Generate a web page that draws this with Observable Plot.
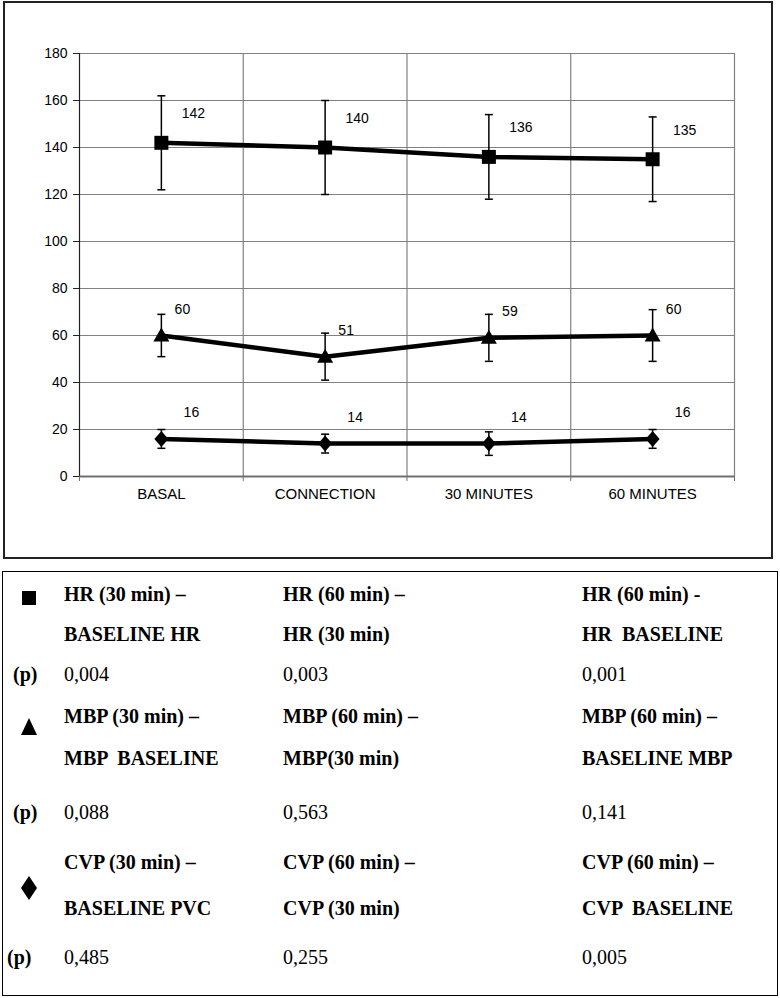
<!DOCTYPE html>
<html>
<head>
<meta charset="utf-8">
<script src="https://cdn.jsdelivr.net/npm/d3@7"></script>
<script src="https://cdn.jsdelivr.net/npm/@observablehq/plot@0.6"></script>
<style>
  html, body { margin: 0; padding: 0; background: #fff; }
  #page { position: relative; width: 780px; height: 998px; overflow: hidden; }
  #chartBox { position: absolute; left: 3px; top: 1px; width: 770px; height: 558px; box-sizing: border-box; border: 2px solid #222; }
  #plot { position: absolute; left: 0; top: 0; }
  #tableBox { position: absolute; left: 2px; top: 571px; width: 776px; height: 425px; box-sizing: border-box; border: 1.5px solid #000; }
  .t { position: absolute; font-family: "Liberation Serif", "Times New Roman", serif; font-size: 20px; line-height: 24px; color: #000; white-space: pre; }
  .b { font-weight: bold; }
  .sym { position: absolute; }
</style>
</head>
<body>
<div id="page">
  <div id="chartBox"></div>
  <div id="plot"></div>
  <div id="tableBox"></div>
</div>
<script>
// ---- chart data ----
const categories = ["BASAL", "CONNECTION", "30 MINUTES", "60 MINUTES"];
const seriesNames = ["HR", "MBP", "CVP"];
const hrMean = [142, 140, 136, 135];
const hrLow  = [122, 120, 118, 117];
const hrHigh = [162, 160, 154, 153];
const mbpMean = [60, 51, 59, 60];
const mbpLow  = [51, 41, 49, 49];
const mbpHigh = [69, 61, 69, 71];
const cvpMean = [16, 14, 14, 16];
const cvpLow  = [12, 10, 9, 12];
const cvpHigh = [20, 18, 19, 20];
const yTicks = [0, 20, 40, 60, 80, 100, 120, 140, 160, 180];

// ---- table data ----
const compHR  = [["HR (30 min) –", "BASELINE HR"], ["HR (60 min) –", "HR (30 min)"], ["HR (60 min) -", "HR  BASELINE"]];
const compMBP = [["MBP (30 min) –", "MBP  BASELINE"], ["MBP (60 min) –", "MBP(30 min)"], ["MBP (60 min) –", "BASELINE MBP"]];
const compCVP = [["CVP (30 min) –", "BASELINE PVC"], ["CVP (60 min) –", "CVP (30 min)"], ["CVP (60 min) –", "CVP  BASELINE"]];
const pHR  = ["0,004", "0,003", "0,001"];
const pMBP = ["0,088", "0,563", "0,141"];
const pCVP = ["0,485", "0,255", "0,005"];

// ---- build rows ----
const means = {HR: hrMean, MBP: mbpMean, CVP: cvpMean};
const lows = {HR: hrLow, MBP: mbpLow, CVP: cvpLow};
const highs = {HR: hrHigh, MBP: mbpHigh, CVP: cvpHigh};
const rows = seriesNames.flatMap(s => categories.map((c, i) => ({series: s, x: i, y: means[s][i], lo: lows[s][i], hi: highs[s][i]})));

// custom marker shapes (pixel sizes)
const symSquare = {draw(ctx) { ctx.moveTo(-7, -7); ctx.lineTo(7, -7); ctx.lineTo(7, 7); ctx.lineTo(-7, 7); ctx.closePath(); }};
const symTriangle = {draw(ctx) { ctx.moveTo(0, -8); ctx.lineTo(8, 6); ctx.lineTo(-8, 6); ctx.closePath(); }};
const symDiamond = {draw(ctx) { ctx.moveTo(0, -8); ctx.lineTo(7, 0); ctx.lineTo(0, 8); ctx.lineTo(-7, 0); ctx.closePath(); }};
const symCap = {draw(ctx) { ctx.moveTo(-4, 0); ctx.lineTo(4, 0); }};
const symbols = {HR: symSquare, MBP: symTriangle, CVP: symDiamond};
const labelDx = {HR: 32, MBP: 21, CVP: 30};
const labelDy = {HR: -29, MBP: -26, CVP: -26};

const boundaries = categories.map((c, i) => i + 0.5);

const marks = [
  Plot.ruleY(yTicks.filter(v => v > 0), {stroke: "#808080", strokeWidth: 1.2}),
  Plot.ruleX(boundaries, {stroke: "#808080", strokeWidth: 1.2}),
  Plot.ruleY([0], {stroke: "#707070", strokeWidth: 2}),
  Plot.ruleX([-0.5], {stroke: "#222", strokeWidth: 1.2}),
  Plot.axisY({ticks: yTicks, tickSize: 6, tickPadding: 6, fontSize: 14, label: null, stroke: "#222"}),
  Plot.axisX({ticks: [-0.5, ...boundaries], tickSize: 5, tickFormat: () => "", label: null, stroke: "#707070"}),
  Plot.axisX({ticks: categories.map((c, i) => i), tickSize: 0, tickPadding: 12, tickFormat: i => categories[i], fontSize: 15, label: null}),
  Plot.ruleX(rows, {x: "x", y1: "lo", y2: "hi", stroke: "#000", strokeWidth: 1.5}),
  Plot.dot(rows, {x: "x", y: "lo", symbol: symCap, r: 4, stroke: "#000", strokeWidth: 1.5, fill: "none"}),
  Plot.dot(rows, {x: "x", y: "hi", symbol: symCap, r: 4, stroke: "#000", strokeWidth: 1.5, fill: "none"}),
  Plot.line(rows, {x: "x", y: "y", z: "series", stroke: "#000", strokeWidth: 4.5}),
];
for (const s of seriesNames) {
  const sub = rows.filter(d => d.series === s);
  marks.push(Plot.dot(sub, {x: "x", y: "y", symbol: symbols[s], r: 7, fill: "#000", stroke: "none"}));
  marks.push(Plot.text(sub, {x: "x", y: "y", text: d => String(d.y), dx: labelDx[s], dy: labelDy[s], fontSize: 14, fill: "#000"}));
}

const chart = Plot.plot({
  width: 780, height: 560,
  marginLeft: 79, marginRight: 46, marginTop: 53, marginBottom: 84,
  x: {type: "linear", domain: [-0.5, 3.5]},
  y: {domain: [0, 180]},
  style: {fontFamily: "'Liberation Sans', Arial, sans-serif", background: "transparent", color: "#000"},
  marks
});
document.getElementById("plot").appendChild(chart);

// ---- table ----
const page = document.getElementById("page");
const colX = [64, 283, 582];
const groups = [
  {comp: compHR, p: pHR, ys: [594, 634, 674], sym: "square", symY: 598, pX: 13},
  {comp: compMBP, p: pMBP, ys: [716, 758, 812], sym: "triangle", symY: 727, pX: 13},
  {comp: compCVP, p: pCVP, ys: [862, 908, 957], sym: "diamond", symY: 888, pX: 7},
];
function addText(txt, x, yc, bold) {
  const d = document.createElement("div");
  d.className = "t" + (bold ? " b" : "");
  d.textContent = txt;
  d.style.left = x + "px";
  d.style.top = (yc - 12) + "px";
  page.appendChild(d);
}
const symPaths = {
  square: "M-7,-7H7V7H-7Z",
  triangle: "M0,-9L8,8H-8Z",
  diamond: "M0,-12L8,0L0,12L-8,0Z"
};
for (const g of groups) {
  g.comp.forEach((lines, j) => {
    addText(lines[0], colX[j], g.ys[0], true);
    addText(lines[1], colX[j], g.ys[1], true);
    addText(g.p[j], colX[j], g.ys[2], false);
  });
  addText("(p)", g.pX, g.ys[2], true);
  const svg = document.createElementNS("http://www.w3.org/2000/svg", "svg");
  svg.setAttribute("class", "sym");
  svg.setAttribute("width", 30); svg.setAttribute("height", 30);
  svg.style.left = (29 - 15) + "px"; svg.style.top = (g.symY - 15) + "px";
  const p = document.createElementNS("http://www.w3.org/2000/svg", "path");
  p.setAttribute("d", symPaths[g.sym]);
  p.setAttribute("transform", "translate(15,15)");
  p.setAttribute("fill", "#000");
  svg.appendChild(p);
  page.appendChild(svg);
}
</script>
</body>
</html>
